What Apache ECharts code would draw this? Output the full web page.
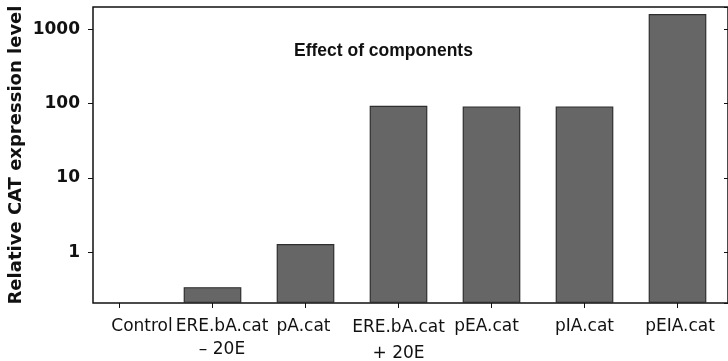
<!DOCTYPE html>
<html>
<head>
<meta charset="utf-8">
<script src="https://cdn.jsdelivr.net/npm/echarts@6/dist/echarts.min.js"></script>
<style>
html,body{margin:0;padding:0;background:#fff;}
#chart{width:728px;height:361px;}
</style>
</head>
<body>
<div id="chart"></div>
<script>
// ---- data ----
const categories = ['Control', 'ERE.bA.cat\n– 20E', 'pA.cat', 'ERE.bA.cat\n+ 20E', 'pEA.cat', 'pIA.cat', 'pEIA.cat'];
const expression = [null, 0.34, 1.29, 94, 92, 92, 1610];
const yTickValues = [1, 10, 100, 1000];
const yMin = 0.208;
const yMax = 2000;
const chartTitle = 'Effect of components';
const yTitle = 'Relative CAT expression level';

// per-label horizontal nudges (style only)
const labelPad = [[0,0,0,45],[0,0,0,19],[0,4,0,0],[0,0,0,0],[0,10,0,0],[0,0,0,0],[0,0,0,5]];
const labelLH = [23,23,23,26,23,23,23];

const chart = echarts.init(document.getElementById('chart'), null, {renderer: 'canvas'});
const FONT = 'DejaVu Sans';
const INK = '#111';

const option = {
  animation: false,
  backgroundColor: '#fff',
  title: {
    text: chartTitle,
    left: 289, top: 37,
    textStyle: {fontFamily: 'Liberation Sans', fontWeight: 'bold', fontSize: 17.5, color: INK}
  },
  grid: [
    {left: 73, right: 4, top: 7, bottom: 58, outerBoundsMode: 'none', containLabel: false},
    {left: 93, right: 0, top: 7, bottom: 58, outerBoundsMode: 'none', containLabel: false,
     show: true, borderColor: INK, borderWidth: 1.5, backgroundColor: 'transparent'}
  ],
  xAxis: [
    {
      type: 'category', gridIndex: 0,
      data: categories.map((c, i) => ({value: c, textStyle: {padding: labelPad[i], lineHeight: labelLH[i]}})),
      axisLine: {show: false},
      axisTick: {show: true, alignWithLabel: true, length: 5, lineStyle: {color: INK, width: 1}},
      axisLabel: {interval: 0, margin: 12, fontFamily: FONT, fontSize: 17, color: INK, lineHeight: 23}
    },
    {
      type: 'value', gridIndex: 1, min: 0, max: 1,
      axisLine: {show: false}, axisTick: {show: false}, axisLabel: {show: false}, splitLine: {show: false}
    }
  ],
  yAxis: [
    {
      type: 'log', gridIndex: 0, position: 'left', offset: -20, min: yMin, max: yMax, startValue: yMin,
      name: yTitle, nameLocation: 'middle', nameGap: 68, nameMoveOverlap: false,
      nameTextStyle: {fontFamily: FONT, fontWeight: 'bold', fontSize: 18, color: INK},
      axisLine: {show: false},
      axisTick: {show: true, length: 5, lineStyle: {color: INK, width: 1}},
      axisLabel: {
        margin: 13, showMinLabel: false, showMaxLabel: false,
        fontFamily: FONT, fontWeight: 'bold', fontSize: 17, color: INK,
        formatter: v => (yTickValues.indexOf(Math.round(v)) >= 0 ? String(Math.round(v)) : '')
      },
      splitLine: {show: false}
    },
    {
      type: 'log', gridIndex: 0, position: 'right', offset: 4, min: yMin, max: yMax,
      axisLine: {show: false},
      axisTick: {show: true, inside: true, length: 4, lineStyle: {color: INK, width: 1}},
      axisLabel: {show: false}, splitLine: {show: false}
    },
    {
      type: 'value', gridIndex: 1, min: 0, max: 1,
      axisLine: {show: false}, axisTick: {show: false}, axisLabel: {show: false}, splitLine: {show: false}
    }
  ],
  series: [
    {
      type: 'bar', xAxisIndex: 0, yAxisIndex: 0,
      data: expression,
      barWidth: '62%',
      itemStyle: {color: '#666666', borderColor: '#2e2e2e', borderWidth: 1.2}
    }
  ]
};
chart.setOption(option);
</script>
</body>
</html>
